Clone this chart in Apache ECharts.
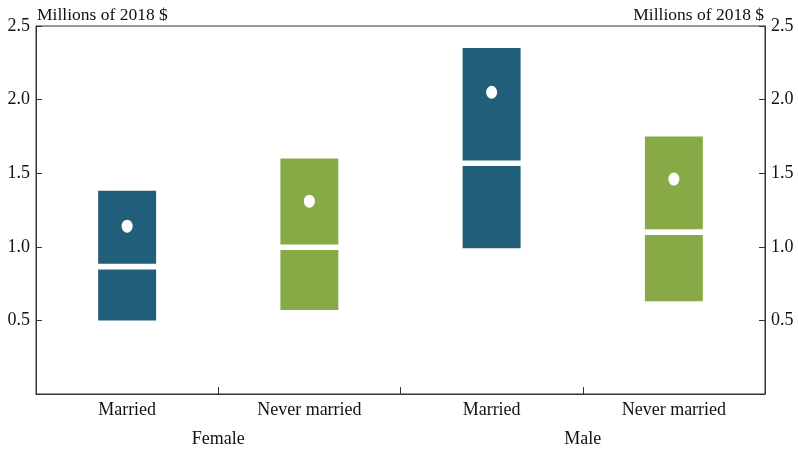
<!DOCTYPE html>
<html>
<head>
<meta charset="utf-8">
<script src="https://cdn.jsdelivr.net/npm/echarts@6/dist/echarts.min.js"></script>
<style>html,body{margin:0;padding:0;background:#fff;}#c{width:798px;height:450px;}</style>
</head>
<body>
<div id="c"></div>
<script>
const categories = ['Married', 'Never married', 'Married', 'Never married'];
const groups = ['Female', 'Male'];
const lowValues = [0.50, 0.57, 0.99, 0.63];
const highValues = [1.38, 1.60, 2.35, 1.75];
const medianValues = [0.865, 0.997, 1.568, 1.10];
const meanValues = [1.14, 1.31, 2.05, 1.46];
const yTicks = [0, 0.5, 1.0, 1.5, 2.0, 2.5];
const unitLabel = 'Millions of 2018 $';

const barColors = ['#215e79', '#88aa46', '#215e79', '#88aa46'];
const font = 'Liberation Serif';
const textColor = '#111111';
const lineColor = '#333333';

const boxData = categories.map((c, i) => [i, lowValues[i], highValues[i], medianValues[i]]);
const meanData = categories.map((c, i) => [i, meanValues[i]]);

function yAxisConf(pos) {
  return {
    type: 'value', position: pos,
    min: yTicks[0], max: yTicks[yTicks.length - 1], interval: 0.5,
    name: unitLabel, nameLocation: 'end', nameGap: 2,
    nameTextStyle: { fontFamily: font, fontSize: 17.5, color: textColor, align: pos === 'left' ? 'left' : 'right', padding: pos === 'left' ? [0,0,0,1] : [0,1,0,0] },
    axisLine: { show: true, lineStyle: { color: lineColor, width: 1 } },
    axisTick: { show: true, inside: true, length: 6, lineStyle: { color: lineColor } },
    axisLabel: { fontFamily: font, fontSize: 18, color: textColor, margin: 6,
      formatter: v => v === 0 ? '' : v.toFixed(1) },
    splitLine: { show: false }
  };
}

const chart = echarts.init(document.getElementById('c'));
chart.setOption({
  animation: false,
  grid: { left: 36, right: 33, top: 26, bottom: 56, show: true, borderColor: lineColor, borderWidth: 1 },
  xAxis: [
    { type: 'category', data: categories, position: 'bottom',
      axisLine: { lineStyle: { color: lineColor } },
      axisTick: { show: true, inside: true, length: 7, alignWithLabel: false, lineStyle: { color: lineColor } },
      axisLabel: { fontFamily: font, fontSize: 18, color: textColor, margin: 7 } },
    { type: 'category', data: groups, position: 'bottom', offset: 30,
      axisLine: { show: false }, axisTick: { show: false },
      axisLabel: { fontFamily: font, fontSize: 18, color: textColor, margin: 6 } }
  ],
  yAxis: [yAxisConf('left'), yAxisConf('right')],
  series: [
    { type: 'custom', xAxisIndex: 0, yAxisIndex: 0, data: boxData,
      encode: { x: 0, y: [1, 2, 3] },
      renderItem: function (params, api) {
        const x = api.value(0);
        const pHi = api.coord([x, api.value(2)]);
        const pLo = api.coord([x, api.value(1)]);
        const pMed = api.coord([x, api.value(3)]);
        const w = api.size([1, 0])[0] * 0.318;
        return { type: 'group', children: [
          { type: 'rect', shape: { x: pHi[0] - w / 2, y: pHi[1], width: w, height: pLo[1] - pHi[1] },
            style: { fill: barColors[params.dataIndex] } },
          { type: 'rect', shape: { x: pHi[0] - w / 2 - 1, y: pMed[1] - 2.8, width: w + 2, height: 5.6 },
            style: { fill: '#ffffff' } }
        ] };
      }, z: 2 },
    { type: 'scatter', xAxisIndex: 0, yAxisIndex: 0, data: meanData,
      symbol: 'circle', symbolSize: [11, 13],
      itemStyle: { color: '#ffffff', opacity: 1 }, z: 3 }
  ]
});
</script>
</body>
</html>
